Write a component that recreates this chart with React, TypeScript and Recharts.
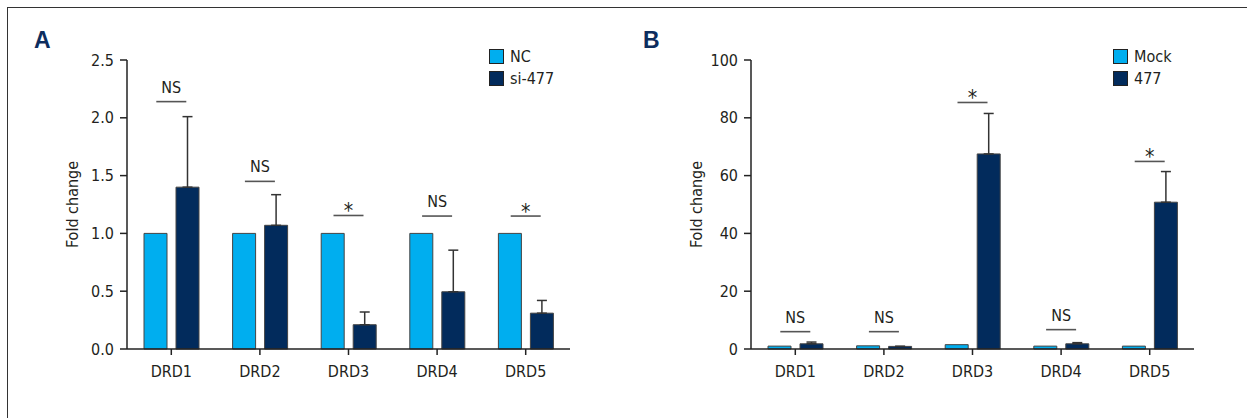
import React from 'react';
import { ComposedChart, Bar, XAxis, YAxis, ErrorBar, ReferenceDot } from 'recharts';

const categories = ['DRD1', 'DRD2', 'DRD3', 'DRD4', 'DRD5'];

// Panel A
const ncValues = [1.0, 1.0, 1.0, 1.0, 1.0];
const si477Values = [1.40, 1.07, 0.21, 0.495, 0.31];
const si477ErrUp = [0.61, 0.265, 0.11, 0.36, 0.11];
const sigAY = [2.14, 1.45, 1.155, 1.15, 1.15];
const sigALabels = ['NS', 'NS', '*', 'NS', '*'];
const yTicksA = [0, 0.5, 1.0, 1.5, 2.0, 2.5];
const seriesNamesA = ['NC', 'si-477'];

// Panel B
const mockValues = [1.0, 1.1, 1.5, 1.0, 1.0];
const b477Values = [1.8, 0.9, 67.5, 1.8, 50.8];
const b477ErrUp = [0.6, 0, 14.0, 0.4, 10.6];
const sigBY = [6.0, 6.0, 85.3, 6.7, 64.9];
const sigBLabels = ['NS', 'NS', '*', 'NS', '*'];
const yTicksB = [0, 20, 40, 60, 80, 100];
const seriesNamesB = ['Mock', '477'];

const FONT = "'Liberation Sans Narrow', 'DejaVu Sans Condensed', 'Roboto Condensed', 'Liberation Sans', sans-serif";
const LIGHT = '#00AEEF';
const DARK = '#022B5C';
const TEXT = '#231F20';

const dataA = categories.map((c, i) => ({
  name: c,
  a: ncValues[i],
  b: si477Values[i],
  bErr: [0, si477ErrUp[i]],
}));
const dataB = categories.map((c, i) => ({
  name: c,
  a: mockValues[i],
  b: b477Values[i],
  bErr: [0, b477ErrUp[i]],
}));

const SigMark = (label: string) => (props: any) => {
  const { cx, cy } = props;
  if (cx == null || cy == null) return null;
  const star = label === '*';
  return (
    <g>
      <line x1={cx - 15} x2={cx + 15} y1={cy} y2={cy} stroke="#555" strokeWidth={1.6} />
      <text
        x={cx}
        y={star ? cy + 3 : cy - 9}
        textAnchor="middle"
        fontFamily={FONT}
        fontSize={star ? 21 : 16}
        fill={TEXT}
      >
        {label}
      </text>
    </g>
  );
};

const LegendBox = ({ names }: { names: string[] }) => (
  <div style={{ position: 'absolute', left: 489, top: 46, fontFamily: FONT, fontSize: 16, color: TEXT }}>
    {names.map((n, i) => (
      <div key={n} style={{ display: 'flex', alignItems: 'center', height: 21.7 }}>
        <div
          style={{
            width: 13,
            height: 13,
            background: i === 0 ? LIGHT : DARK,
            border: '1.5px solid #222',
            marginRight: 6,
          }}
        />
        <span>{n}</span>
      </div>
    ))}
  </div>
);

type PanelProps = {
  data: any[];
  yMax: number;
  ticks: number[];
  fmt: (v: number) => string;
  names: string[];
  sigY: number[];
  sigLabels: string[];
  left: number;
  letter: string;
};

const Panel = ({ data, yMax, ticks, fmt, names, sigY, sigLabels, left, letter }: PanelProps) => (
  <div style={{ position: 'absolute', left, top: 0, width: 622, height: 418 }}>
    <div
      style={{
        position: 'absolute',
        left: letter === 'A' ? 34 : 19,
        top: 29,
        fontFamily: "'Liberation Sans', sans-serif",
        fontWeight: 'bold',
        fontSize: 23,
        lineHeight: '23px',
        color: '#0D2D5E',
      }}
    >
      {letter}
    </div>
    <ComposedChart
      width={622}
      height={418}
      data={data}
      margin={{ top: 60, right: 52, bottom: 0, left: 0 }}
      barSize={23}
      barGap={9}
    >
      <XAxis
        dataKey="name"
        type="category"
        height={69}
        tickSize={6}
        tickMargin={11}
        stroke="#222"
        strokeWidth={1.5}
        tick={{ fill: TEXT, fontSize: 16, fontFamily: FONT }}
      />
      <YAxis
        width={127}
        domain={[0, yMax]}
        ticks={ticks}
        tickFormatter={fmt}
        interval={0}
        tickSize={7}
        tickMargin={6}
        stroke="#222"
        strokeWidth={1.5}
        tick={{ fill: TEXT, fontSize: 16, fontFamily: FONT }}
        label={{
          value: 'Fold change',
          angle: -90,
          position: 'center',
          dx: 9,
          fill: TEXT,
          fontSize: 16,
          fontFamily: FONT,
        }}
      />
      <Bar dataKey="a" name={names[0]} fill={LIGHT} stroke="#444" strokeWidth={1} isAnimationActive={false} />
      <Bar dataKey="b" name={names[1]} fill={DARK} stroke="#444" strokeWidth={1} isAnimationActive={false}>
        <ErrorBar dataKey="bErr" width={5} stroke="#333" strokeWidth={1.5} direction="y" isAnimationActive={false} />
      </Bar>
      {categories.map((c, i) => (
        <ReferenceDot key={c} x={c} y={sigY[i]} r={0} shape={SigMark(sigLabels[i])} ifOverflow="visible" />
      ))}
    </ComposedChart>
    <LegendBox names={names} />
  </div>
);

export default function App() {
  return (
    <div style={{ position: 'absolute', left: 0, top: 0, width: 1247, height: 418, background: '#fff', overflow: 'hidden' }}>
      <div
        style={{
          position: 'absolute',
          left: 7,
          top: 7,
          width: 1250,
          height: 420,
          borderLeft: '1.3px solid #333',
          borderTop: '1.3px solid #333',
        }}
      />
      <Panel
        data={dataA}
        yMax={2.5}
        ticks={yTicksA}
        fmt={(v) => v.toFixed(1)}
        names={seriesNamesA}
        sigY={sigAY}
        sigLabels={sigALabels}
        left={0}
        letter="A"
      />
      <Panel
        data={dataB}
        yMax={100}
        ticks={yTicksB}
        fmt={(v) => String(v)}
        names={seriesNamesB}
        sigY={sigBY}
        sigLabels={sigBLabels}
        left={624}
        letter="B"
      />
    </div>
  );
}
